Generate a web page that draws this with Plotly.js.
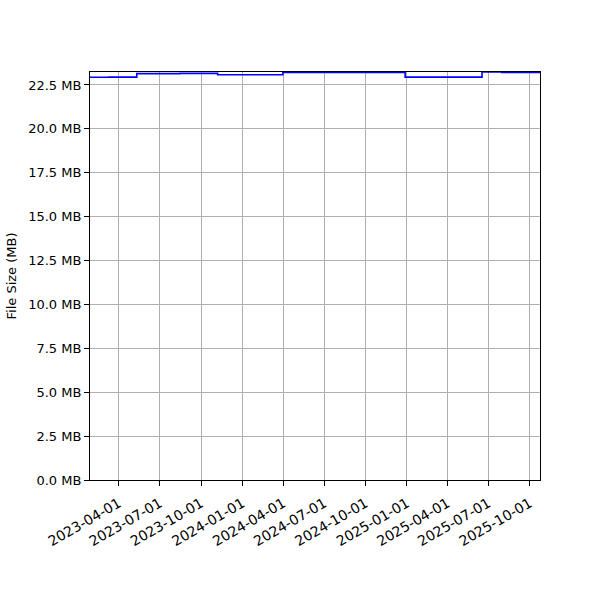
<!DOCTYPE html>
<html>
<head>
<meta charset="utf-8">
<script src="https://cdn.plot.ly/plotly-3.0.1.min.js"></script>
<style>html,body{margin:0;padding:0;background:#fff}#chart{width:600px;height:600px}</style>
</head>
<body>
<div id="chart"></div>
<script>
// Data (dates of changes and file size in MB)
const dates = ['2023-01-25','2023-01-25','2023-03-10','2023-05-11','2023-08-15','2023-11-07','2024-03-31','2024-12-28','2025-06-17','2025-07-31','2025-10-24'];
const sizesMB = [0, 22.94, 22.95, 23.15, 23.16, 23.08, 23.21, 22.95, 23.24, 23.21, 23.21];
const xTickVals = ['2023-04-01','2023-07-01','2023-10-01','2024-01-01','2024-04-01','2024-07-01','2024-10-01','2025-01-01','2025-04-01','2025-07-01','2025-10-01'];
const yTickVals = [0, 2.5, 5, 7.5, 10, 12.5, 15, 17.5, 20, 22.5];
const yTickText = yTickVals.map(v => v.toFixed(1) + ' MB');

const font = {family: 'DejaVu Sans, sans-serif', size: 13, color: '#000'};

Plotly.newPlot('chart', [{
  x: dates, y: sizesMB, type: 'scatter', mode: 'lines',
  line: {color: '#0000ff', width: 1.6, shape: 'hv'},
  hoverinfo: 'skip'
}], {
  width: 600, height: 600,
  margin: {l: 90, r: 60, t: 72, b: 120},
  paper_bgcolor: '#fff', plot_bgcolor: '#fff',
  showlegend: false,
  font: font,
  xaxis: {
    type: 'date', range: ['2023-01-27', '2025-10-24'],
    tickmode: 'array', tickvals: xTickVals, ticktext: xTickVals,
    tickangle: -30, tickfont: {family: 'DejaVu Sans, sans-serif', size: 14, color: '#000'},
    ticklabelstandoff: 4,
    showgrid: true, gridcolor: '#b0b0b0', gridwidth: 1,
    showline: true, mirror: true, linecolor: '#000', linewidth: 1,
    ticks: 'outside', ticklen: 5, tickcolor: '#000', tickwidth: 1,
    zeroline: false, automargin: false
  },
  yaxis: {
    range: [0, 23.24],
    tickmode: 'array', tickvals: yTickVals, ticktext: yTickText,
    tickfont: font,
    title: {text: 'File Size (MB)', font: {family: 'DejaVu Sans, sans-serif', size: 13, color: '#000'}, standoff: 8},
    showgrid: true, gridcolor: '#b0b0b0', gridwidth: 1,
    showline: true, mirror: true, linecolor: '#000', linewidth: 1,
    ticks: 'outside', ticklen: 5, tickcolor: '#000', tickwidth: 1,
    zeroline: false, automargin: false
  }
}, {staticPlot: true, displayModeBar: false});
</script>
</body>
</html>
